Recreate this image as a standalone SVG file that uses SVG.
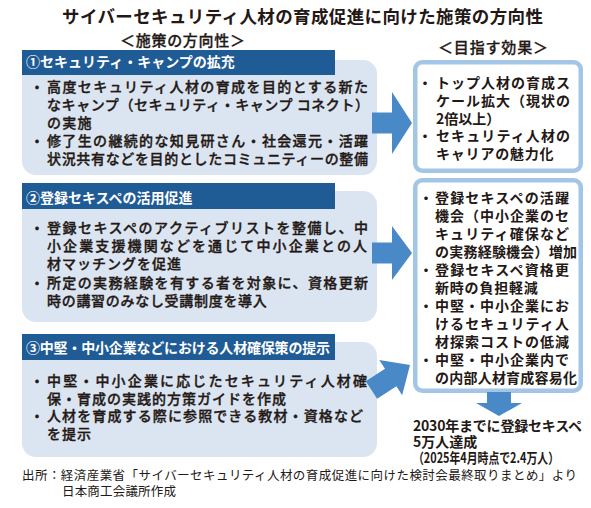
<svg xmlns="http://www.w3.org/2000/svg" width="591" height="508" viewBox="0 0 591 508">
<style>
text{font-family:"Noto Sans CJK JP","Noto Sans CJK SC",sans-serif;fill:#231815}
.ttl{font-size:17.5px;font-weight:700}
.sub{font-size:15px;font-weight:500;stroke:#231815;stroke-width:0.3}
.hdr{font-size:14px;font-weight:700;fill:#fff}
.body{font-size:14px;font-weight:500;stroke:#231815;stroke-width:0.35}
.eff{font-size:14px;font-weight:700}
.foot{font-size:12.5px;font-weight:400}
.light{fill:#dbe5f1}
.head{fill:#1f5b95}
.rbox{fill:#fff;stroke:#a3c5e6;stroke-width:4.5}
.arr{fill:#4a89c8}
</style>
<rect width="591" height="508" fill="#fff"/>
<g id="title">
<text class="ttl" x="62" y="23" textLength="481">サイバーセキュリティ人材の育成促進に向けた施策の方向性</text>
<text class="sub" x="120" y="46" textLength="125">＜施策の方向性＞</text>
<text class="sub" x="438" y="53" textLength="110">＜目指す効果＞</text>
</g>
<g id="policy1">
<rect class="light" x="22" y="60" width="355" height="115" rx="14"/>
<rect class="head" x="22" y="50" width="313" height="25"/>
<text class="hdr" x="26" y="67">①セキュリティ・キャンプの拡充</text>
<text class="body" x="30" y="92">・</text>
<text class="body" x="47" y="92" textLength="321">高度セキュリティ人材の育成を目的とする新た</text>
<text class="body" x="47" y="110" textLength="322">なキャンプ（セキュリティ・キャンプ コネクト）</text>
<text class="body" x="47" y="128" letter-spacing="1.3">の実施</text>
<text class="body" x="30" y="146">・</text>
<text class="body" x="47" y="146" textLength="321">修了生の継続的な知見研さん・社会還元・活躍</text>
<text class="body" x="47" y="164" textLength="321">状況共有などを目的としたコミュニティーの整備</text>
</g>
<g id="policy2">
<rect class="light" x="22" y="191" width="355" height="131" rx="14"/>
<rect class="head" x="22" y="183" width="313" height="26"/>
<text class="hdr" x="26" y="203">②登録セキスペの活用促進</text>
<text class="body" x="30" y="233">・</text>
<text class="body" x="47" y="233" textLength="321">登録セキスペのアクティブリストを整備し、中</text>
<text class="body" x="47" y="251" textLength="320">小企業支援機関などを通じて中小企業との人</text>
<text class="body" x="47" y="269" letter-spacing="1">材マッチングを促進</text>
<text class="body" x="30" y="288">・</text>
<text class="body" x="47" y="288" textLength="321">所定の実務経験を有する者を対象に、資格更新</text>
<text class="body" x="47" y="306" letter-spacing="0.7">時の講習のみなし受講制度を導入</text>
</g>
<g id="policy3">
<rect class="light" x="22" y="342" width="355" height="115" rx="14"/>
<rect class="head" x="22" y="334" width="313" height="26"/>
<text class="hdr" x="26" y="353" textLength="304">③中堅・中小企業などにおける人材確保策の提示</text>
<text class="body" x="30" y="386">・</text>
<text class="body" x="47" y="386" textLength="320">中堅・中小企業に応じたセキュリティ人材確</text>
<text class="body" x="47" y="404" letter-spacing="1">保・育成の実践的方策ガイドを作成</text>
<text class="body" x="30" y="421">・</text>
<text class="body" x="47" y="421" textLength="316">人材を育成する際に参照できる教材・資格など</text>
<text class="body" x="47" y="439" letter-spacing="1">を提示</text>
</g>
<g id="effect1">
<rect class="rbox" x="415.25" y="62.25" width="165.5" height="108.5" rx="7"/>
<text class="eff" x="418" y="88">・</text>
<text class="eff" x="436" y="88" textLength="134">トップ人材の育成ス</text>
<text class="eff" x="436" y="106" textLength="134">ケール拡大（現状の</text>
<text class="eff" x="436" y="124">2倍以上）</text>
<text class="eff" x="418" y="141">・</text>
<text class="eff" x="436" y="141" textLength="134">セキュリティ人材の</text>
<text class="eff" x="436" y="159" letter-spacing="0.8">キャリアの魅力化</text>
</g>
<g id="effect2">
<rect class="rbox" x="415.25" y="180.25" width="165.5" height="210.5" rx="7"/>
<text class="eff" x="419" y="203">・</text>
<text class="eff" x="435" y="203" textLength="134">登録セキスペの活躍</text>
<text class="eff" x="435" y="221" textLength="134">機会（中小企業のセ</text>
<text class="eff" x="435" y="239" textLength="134">キュリティ確保など</text>
<text class="eff" x="435" y="257" textLength="142">の実務経験機会）増加</text>
<text class="eff" x="419" y="275">・</text>
<text class="eff" x="435" y="275" textLength="134">登録セキスペ資格更</text>
<text class="eff" x="435" y="293" letter-spacing="0.8">新時の負担軽減</text>
<text class="eff" x="419" y="311">・</text>
<text class="eff" x="435" y="311" textLength="134">中堅・中小企業にお</text>
<text class="eff" x="435" y="329" textLength="134">けるセキュリティ人</text>
<text class="eff" x="435" y="347" textLength="134">材探索コストの低減</text>
<text class="eff" x="419" y="365">・</text>
<text class="eff" x="435" y="365" textLength="134">中堅・中小企業内で</text>
<text class="eff" x="435" y="383" textLength="142">の内部人材育成容易化</text>
</g>
<g id="goal">
<text class="eff" x="413" y="431" textLength="169">2030年までに登録セキスペ</text>
<text class="eff" x="413" y="447">5万人達成</text>
<text class="eff" x="413" y="463" font-size="11" textLength="146" lengthAdjust="spacingAndGlyphs">（2025年4月時点で2.4万人）</text>
</g>
<g id="connectors">
<polygon class="arr" points="372,112.5 392,112.5 392,92 412,123 392,154 392,133.5 372,133.5"/>
<polygon class="arr" points="372,242.5 392,242.5 392,226 412,253 392,280 392,263.5 372,263.5"/>
<polygon class="arr" transform="translate(410,365) rotate(-33)" points="-46,-10.5 -23,-10.5 -23,-21 0,0 -23,21 -23,10.5 -46,10.5"/>
<polygon class="arr" points="487,392 511,392 511,403 522,403 499,416 476,403 487,403"/>
</g>
<g id="source">
<text class="foot" x="22" y="480" textLength="555">出所：経済産業省「サイバーセキュリティ人材の育成促進に向けた検討会最終取りまとめ」より</text>
<text class="foot" x="62" y="496" textLength="114">日本商工会議所作成</text>
</g>
</svg>
